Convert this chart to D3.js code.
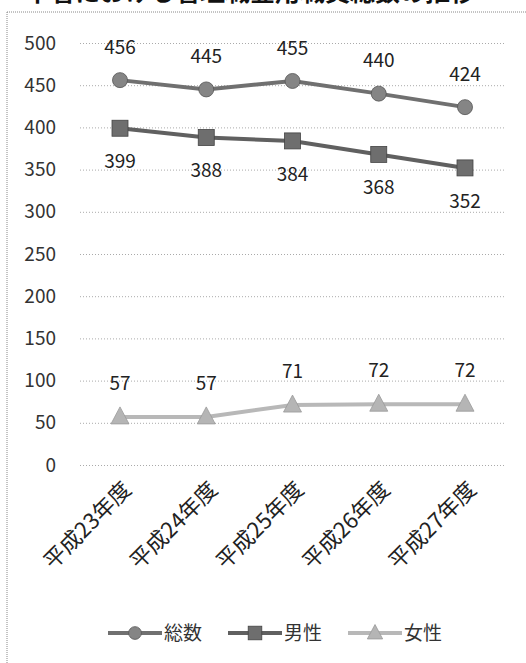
<!DOCTYPE html>
<html><head><meta charset="utf-8">
<script src="https://cdn.jsdelivr.net/npm/d3@7"></script>
<style>body{margin:0;background:#fff;} svg{display:block;}</style>
</head><body>
<svg id="c" width="526" height="663"></svg>
<script>
const title = "本省における管理職登用職員総数の推移";
const categories = ["平成23年度","平成24年度","平成25年度","平成26年度","平成27年度"];
const seriesNames = ["総数","男性","女性"];
const totalValues = [456,445,455,440,424];
const maleValues = [399,388,384,368,352];
const femaleValues = [57,57,71,72,72];
const yTicks = [0,50,100,150,200,250,300,350,400,450,500];

const svg = d3.select("#c");
const font = "'Noto Sans CJK JP','Noto Sans',sans-serif";

// title (clipped at top, as in the reference)
svg.append("text").attr("x",250).attr("y",1).attr("text-anchor","middle")
  .attr("font-family",font).attr("font-weight","bold").attr("font-size",25).attr("fill","#111").text(title);

// border
svg.append("line").attr("x1",7).attr("x2",526).attr("y1",12).attr("y2",12)
  .attr("stroke","#888").attr("stroke-dasharray","1,1");
svg.append("line").attr("x1",7).attr("x2",7).attr("y1",12).attr("y2",663)
  .attr("stroke","#888").attr("stroke-dasharray","1,1");

const x = d3.scalePoint().domain(categories).range([120,465]);
const y = d3.scaleLinear().domain([0,500]).range([465,43]);

// grid
const yAxis = d3.axisLeft(y).tickValues(yTicks).tickSize(-426).tickPadding(24);
const ga = svg.append("g").attr("transform","translate(80,0)").call(yAxis);
ga.select(".domain").remove();
ga.selectAll(".tick line").attr("stroke","#aaa").attr("stroke-dasharray","1,2");
ga.selectAll(".tick text").attr("font-family",font).attr("font-size",19).attr("fill","#333");

// x labels
const xAxis = d3.axisBottom(x).tickSize(0);
const gx = svg.append("g").attr("transform","translate(0,465)").call(xAxis);
gx.select(".domain").remove();
gx.selectAll(".tick text").attr("font-family",font).attr("font-size",22).attr("fill","#222")
  .attr("text-anchor","end").attr("dy",0).attr("transform","translate(12,26) rotate(-45)").attr("y",0).attr("x",0);

const line = d3.line().x((d,i)=>x(categories[i])).y(d=>y(d));

const series = [
  {name:seriesNames[0], values:totalValues, color:"#707070", marker:"circle", fill:"#858585", labelDy:-33},
  {name:seriesNames[1], values:maleValues, color:"#606060", marker:"square", fill:"#6e6e6e", labelDy:33},
  {name:seriesNames[2], values:femaleValues, color:"#b8b8b8", marker:"triangle", fill:"#b5b5b5", labelDy:-34}
];

function drawMarker(g, type, cx, cy, fill, s){
  s = s||1;
  if(type==="circle") g.append("circle").attr("cx",cx).attr("cy",cy).attr("r",7.5*s).attr("fill",fill).attr("stroke","#555").attr("stroke-width",0.8);
  else if(type==="square") g.append("rect").attr("x",cx-8*s).attr("y",cy-8*s).attr("width",16*s).attr("height",16*s).attr("fill",fill).attr("stroke","#444").attr("stroke-width",0.8);
  else g.append("path").attr("d",`M${cx},${cy-10*s}L${cx+9*s},${cy+7*s}L${cx-9*s},${cy+7*s}Z`).attr("fill",fill).attr("stroke","#999").attr("stroke-width",0.8);
}

series.forEach(s=>{
  svg.append("path").attr("d",line(s.values)).attr("fill","none").attr("stroke",s.color).attr("stroke-width",4);
  const g = svg.append("g");
  s.values.forEach((v,i)=>drawMarker(g,s.marker,x(categories[i]),y(v),s.fill));
  svg.append("g").selectAll("text").data(s.values).join("text")
    .attr("x",(d,i)=>x(categories[i])).attr("y",d=>y(d)+s.labelDy).attr("dy","0.35em")
    .attr("text-anchor","middle").attr("font-family",font).attr("font-size",19).attr("fill","#222").text(d=>d);
});

// legend
const legX = [108,228,348];
series.forEach((s,i)=>{
  const lx = legX[i], ly = 633;
  svg.append("line").attr("x1",lx).attr("x2",lx+54).attr("y1",ly).attr("y2",ly).attr("stroke",s.color).attr("stroke-width",4);
  drawMarker(svg, s.marker, lx+27, ly, s.fill, 0.85);
  svg.append("text").attr("x",lx+56).attr("y",ly).attr("dy","0.35em").attr("font-family",font)
    .attr("font-size",19).attr("fill","#333").text(s.name);
});
</script>
</body></html>
